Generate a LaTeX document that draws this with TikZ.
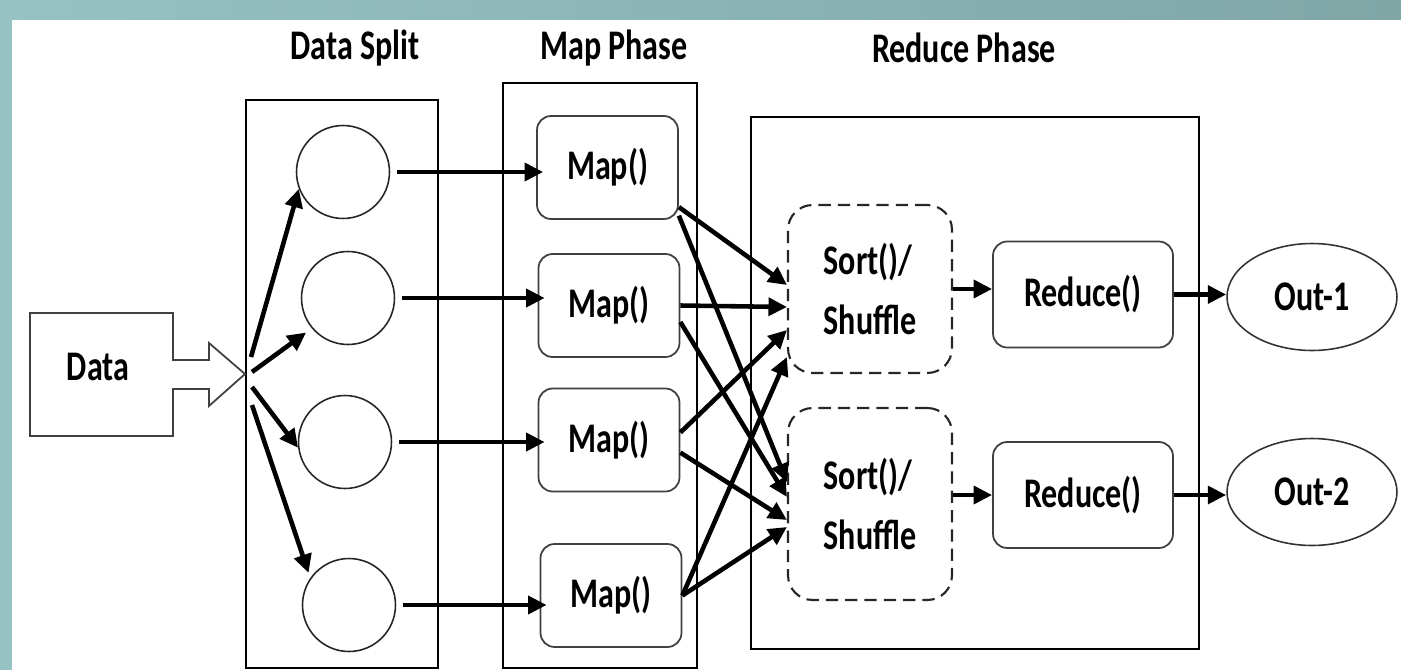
\documentclass[tikz,border=0pt]{standalone}
\usepackage{fontspec}
\setmainfont{Carlito}
\usetikzlibrary{shapes.geometric,arrows.meta,calc}
\definecolor{tealA}{RGB}{150,194,196}
\definecolor{tealB}{RGB}{128,166,166}
\newcommand{\sq}[1]{\scalebox{0.76}[1]{#1}}
\newcommand{\txtfont}{\fontsize{24}{28}\selectfont\bfseries}
\begin{document}
\begin{tikzpicture}[x=0.02cm,y=-0.02cm,
  frame/.style={draw=black, line width=1pt, inner sep=0pt},
  circ/.style={circle, draw=black!85, line width=0.9pt, fill=white, minimum size=1.86cm, inner sep=0pt},
  mapbox/.style={draw=black!75, rounded corners=8pt, line width=1pt, fill=white, font=\txtfont, inner sep=0pt, minimum width=2.82cm, minimum height=2.06cm},
  sortbox/.style={draw=black!85, dash pattern=on 7pt off 4pt, rounded corners=14pt, line width=1.2pt, fill=white, font=\txtfont, inner sep=0pt, minimum width=3.28cm, align=left},
  redbox/.style={draw=black!75, rounded corners=8pt, line width=1pt, fill=white, font=\txtfont, inner sep=0pt, minimum width=3.6cm, minimum height=2.12cm},
  outnode/.style={ellipse, draw=black!80, line width=0.9pt, fill=white, font=\txtfont, inner sep=0pt, minimum width=3.4cm, minimum height=2.14cm},
  title/.style={font=\txtfont, inner sep=0pt},
  arr/.style={line width=2.6pt, -{Triangle[length=10.5pt,width=10pt]}}
]
\useasboundingbox (0,0) rectangle (1401,670);
\shade[left color=tealA, right color=tealB] (0,0) rectangle (1401,670);
\fill[white] (12,20) rectangle (1401,670);

% titles
\node[title] (t1) at (355,48) {\sq{Data Split}};
\node[title] (t2) at (614,48) {\sq{Map Phase}};
\node[title] (t3) at (964,48) {\sq{Reduce Phase}};

% containers
\node[frame, minimum width=3.84cm, minimum height=11.36cm] (dsbox) at (342,384) {};
\node[frame, minimum width=3.88cm, minimum height=11.7cm] (mpbox) at (600,375.5) {};
\node[frame, minimum width=8.96cm, minimum height=10.64cm] (rpbox) at (975,383) {};

% data arrow shape
\draw[black!75, line width=1pt, fill=white] (30,313) -- (173,313) -- (173,360) -- (209,360) -- (209,343) -- (245,374) -- (209,406) -- (209,389) -- (173,389) -- (173,436) -- (30,436) -- cycle;
\node[font=\txtfont, inner sep=0pt] (data) at (98,367) {\sq{Data}};

% split circles
\node[circ] (c1) at (343,172) {};
\node[circ] (c2) at (348,298) {};
\node[circ] (c3) at (345,442) {};
\node[circ] (c4) at (349,605) {};

% map boxes
\node[mapbox] (m1) at (607.5,167.5) {\sq{Map()}};
\node[mapbox] (m2) at (609,305.5) {\sq{Map()}};
\node[mapbox] (m3) at (609,440) {\sq{Map()}};
\node[mapbox] (m4) at (611,595.5) {\sq{Map()}};

% sort/shuffle
\node[sortbox, minimum height=3.36cm] (S1) at (870,289) {\sq{Sort()/}\\[6pt]\sq{Shuffle}};
\node[sortbox, minimum height=3.84cm] (S2) at (870,504) {\sq{Sort()/}\\[6pt]\sq{Shuffle}};

% reduce
\node[redbox] (R1) at (1083,294.5) {\sq{Reduce()}};
\node[redbox] (R2) at (1083,495) {\sq{Reduce()}};

% outputs
\node[outnode] (O1) at (1312,297) {\sq{Out-1}};
\node[outnode] (O2) at (1312,492) {\sq{Out-2}};

% split arrows
\coordinate (s1) at (251,357);
\coordinate (s2) at (252,372);
\coordinate (s3) at (252,387);
\coordinate (s4) at (252,405);
\draw[arr] (s1) -- (c1.201);
\draw[arr, shorten >=4pt] (s2) -- (c2.220);
\draw[arr] (s3) -- (c3.187);
\draw[arr, shorten >=3pt] (s4) -- (c4.145);

% circle -> map
\draw[arr] ([xshift=4pt]c1.east) -- ([xshift=4pt]c1.east -| m1.west);
\draw[arr] ([xshift=4pt]c2.east) -- ([xshift=4pt]c2.east -| m2.west);
\draw[arr] ([xshift=4pt]c3.east) -- ([xshift=4pt]c3.east -| m3.west);
\draw[arr] ([xshift=4pt]c4.east) -- ([xshift=4pt]c4.east -| m4.west);

% map -> sort
\draw[arr] (m1.-29) -- ($(S1.west)+(0,-4)$);
\draw[arr] (m1.-34) -- ($(S2.west)+(0,-22)$);
\draw[arr] (m2.east) -- ($(S1.west)+(0,18)$);
\draw[arr] (m2.-13) -- ($(S2.west)+(0,-7)$);
\draw[arr] (m3.6) -- ($(S1.west)+(0,41)$);
\draw[arr] (m3.-10) -- ($(S2.west)+(0,16)$);
\draw[arr] (m4.east) -- ($(S1.west)+(0,68)$);
\draw[arr] (m4.east) -- ($(S2.west)+(0,23)$);

% sort -> reduce
\draw[arr] (S1.east) -- (S1.east -| R1.west);
\draw[arr] (R2.west -| S2.east) -- (R2.west);

% reduce -> out
\draw[arr] (R1.east) -- (R1.east -| O1.west);
\draw[arr] (R2.east) -- (R2.east -| O2.west);
\end{tikzpicture}
\end{document}
